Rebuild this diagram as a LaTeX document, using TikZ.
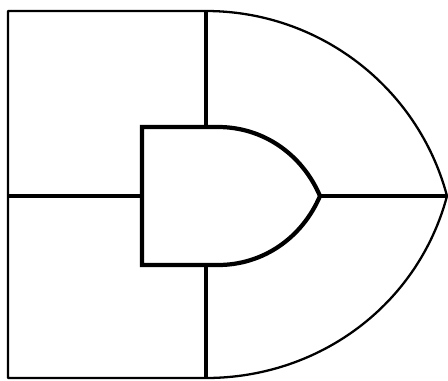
\documentclass[tikz,border=0pt]{standalone}
\begin{document}
\begin{tikzpicture}[x=0.02cm, y=0.02cm,
    rim/.style={draw=black, line width=1.3pt, line join=round},
    bar/.style={draw=black, line width=1.9pt},
    core/.style={draw=black, line width=2.4pt, line join=miter}]
  \useasboundingbox (0,0) rectangle (448,380);
  % outer shape
  \coordinate (otl) at (8,369);  \coordinate (otr) at (206,369);
  \coordinate (obl) at (8,2);    \coordinate (obr) at (206,2);
  \coordinate (otip) at (447,184);
  % inner shape
  \coordinate (itl) at (142,253); \coordinate (itr) at (218,253);
  \coordinate (ibl) at (142,115); \coordinate (ibr) at (218,115);
  \coordinate (itip) at (320,184);
  \coordinate (ileft) at (142,184);
  \coordinate (olft) at (8,184);
  \coordinate (itop) at (206,253); \coordinate (ibot) at (206,115);
  \path[rim] (otl) -- (otr) .. controls (319,369) and (418,293) .. (otip)
    .. controls (418,75) and (319,2) .. (obr) -- (obl) -- cycle;
  \draw[bar] (otr) -- (itop);
  \draw[bar] (ibot) -- (obr);
  \draw[bar] (olft) -- (ileft);
  \draw[bar] (itip) -- (otip);
  \path[core] (itl) -- (itr) .. controls (263,253) and (302,226) .. (itip)
    .. controls (302,142) and (263,115) .. (ibr) -- (ibl) -- cycle;
\end{tikzpicture}
\end{document}
